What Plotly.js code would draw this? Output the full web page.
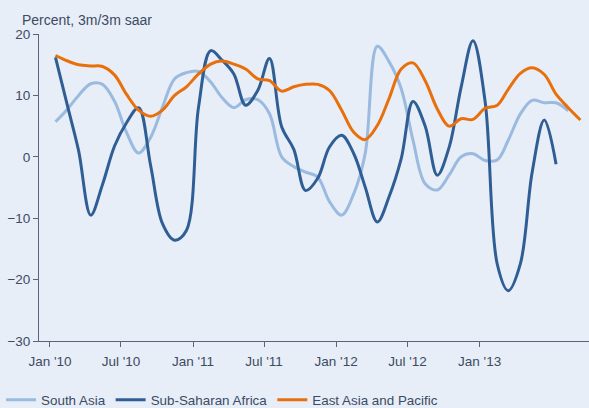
<!DOCTYPE html>
<html>
<head>
<meta charset="utf-8">
<script src="https://cdn.plot.ly/plotly-3.0.1.min.js"></script>
<style>html,body{margin:0;padding:0;background:#e8eef7;}#chart{width:589px;height:408px;}</style>
</head>
<body>
<div id="chart"></div>
<script>
// Monthly observations, Jan 2010 onward
const startYear = 2010;
const southAsia = [5.7, 7.8, 10.0, 11.9, 11.8, 9.0, 4.0, 0.6, 3.2, 8.1, 12.7,
  13.7, 13.9, 12.2, 9.7, 8.0, 9.3, 9.3, 7.0, 0.0, -1.6, -2.5,
  -3.3, -7.3, -9.5, -6.0, 0.5, 18.0, 15.5, 11.1, 2.7, -4.4, -5.4, -3.0,
  0.0, 0.5, -0.6, -0.5, 2.7, 7.0, 9.2, 8.8, 8.8, 7.5];
const subSaharan = [16.2, 8.2, 1.0, -9.5, -4.5, 1.8, 5.5, 8.0, -1.5, -10.9, -13.6,
  -12.0, 8.1, 17.3, 15.8, 13.5, 8.4, 10.8, 16.0, 4.9, 1.2, -5.5,
  -3.5, 1.6, 3.5, 0.5, -4.9, -10.6, -6.5, -0.3, 9.0, 5.0, -3.0, 1.5,
  11.4, 18.9, 9.0, -17.5, -21.8, -17.4, -2.5, 6.0, -1.2];
const eastAsia = [16.5, 15.6, 15.0, 14.8, 14.7, 13.3, 10.2, 7.6, 6.6, 7.6, 10.0,
  11.4, 13.5, 15.1, 15.6, 15.1, 14.3, 12.7, 12.4, 10.7, 11.4, 11.8,
  11.8, 10.8, 7.6, 4.0, 2.8, 5.1, 9.5, 14.3, 15.3, 12.4, 7.8, 5.0,
  6.2, 6.1, 7.9, 8.4, 11.0, 13.6, 14.5, 13.4, 10.2, 8.0, 6.0];
const tickVals = ['2010-01-01','2010-07-01','2011-01-01','2011-07-01','2012-01-01','2012-07-01','2013-01-01'];
const tickText = ["Jan '10","Jul '10","Jan '11","Jul '11","Jan '12","Jul '12","Jan '13"];

function monthDates(n) {
  const out = [];
  for (let i = 0; i < n; i++) {
    const y = startYear + Math.floor(i / 12);
    const m = (i % 12) + 1;
    out.push(y + '-' + String(m).padStart(2, '0') + '-15');
  }
  return out;
}

const txt = '#3b4b63';
const fam = 'Liberation Sans';
const tickFont = {family: fam, size: 13.5, color: txt};
const legendFont = {family: fam, size: 13.4, color: txt};
const titleFont = {family: fam, size: 14, color: txt};
const traces = [
  {name: 'South Asia', x: monthDates(southAsia.length), y: southAsia, type: 'scatter', mode: 'lines',
   line: {color: '#9bbadf', width: 3, shape: 'spline', smoothing: 1}},
  {name: 'Sub-Saharan Africa', x: monthDates(subSaharan.length), y: subSaharan, type: 'scatter', mode: 'lines',
   line: {color: '#2f5e94', width: 3, shape: 'spline', smoothing: 1}},
  {name: 'East Asia and Pacific', x: monthDates(eastAsia.length), y: eastAsia, type: 'scatter', mode: 'lines',
   line: {color: '#e8700c', width: 3, shape: 'spline', smoothing: 1}}
];
const layout = {
  width: 589, height: 408,
  paper_bgcolor: '#e8eef7', plot_bgcolor: '#e8eef7',
  font: tickFont,
  margin: {l: 39, r: 0, t: 34, b: 67, autoexpand: false},
  showlegend: true,
  legend: {orientation: 'h', x: -0.069, xanchor: 'left', y: -0.243, yanchor: 'bottom',
           font: legendFont, bgcolor: 'rgba(0,0,0,0)', itemwidth: 30},
  xaxis: {type: 'date', range: ['2009-12-04', '2013-10-07'], tickvals: tickVals, ticktext: tickText,
          showgrid: false, zeroline: false, showline: true, linecolor: '#56667c', linewidth: 1,
          ticks: 'outside', ticklen: 5, tickcolor: '#56667c', tickfont: tickFont,
          ticklabelstandoff: 3, fixedrange: true, automargin: false},
  yaxis: {range: [-30, 20], tickvals: [-30, -20, -10, 0, 10, 20], showgrid: false, zeroline: false,
          showline: true, linecolor: '#56667c', linewidth: 1, ticks: 'outside', ticklen: 5,
          tickcolor: '#56667c', tickfont: tickFont, fixedrange: true, automargin: false},
  annotations: [{text: 'Percent, 3m/3m saar', xref: 'paper', yref: 'paper', x: -0.0345, y: 1.0,
                 xanchor: 'left', yanchor: 'bottom', yshift: 4, showarrow: false, font: titleFont}]
};
Plotly.newPlot('chart', traces, layout, {displayModeBar: false, staticPlot: true});
</script>
</body>
</html>
